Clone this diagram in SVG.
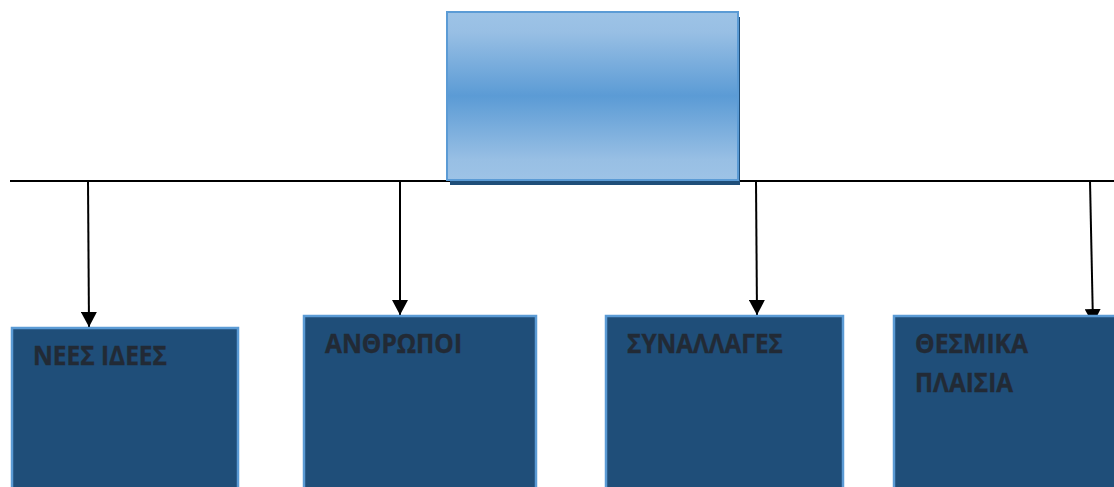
<svg xmlns="http://www.w3.org/2000/svg" width="1114" height="487" viewBox="0 0 1114 487">
  <defs>
    <linearGradient id="topFill" x1="0" y1="0" x2="0" y2="1">
      <stop offset="0" stop-color="#9dc3e6"/>
      <stop offset="0.12" stop-color="#98bfe4"/>
      <stop offset="0.5" stop-color="#5b9bd5"/>
      <stop offset="0.88" stop-color="#98bfe4"/>
      <stop offset="1" stop-color="#9dc3e6"/>
    </linearGradient>
    <marker id="arrowBig" markerWidth="15" markerHeight="16" refX="15" refY="8" orient="auto" markerUnits="userSpaceOnUse" viewBox="0 0 15 16">
      <path d="M0,0 L15,8 L0,16 z" fill="#000"/>
    </marker>
  </defs>
  <style>
    .box { fill: #1f4e79; stroke: #5b9bd5; stroke-width: 2.5; }
    .label { font-family: "Open Sans", "Liberation Sans", sans-serif; font-weight: bold; font-size: 27px; fill: #222a35; stroke: #222a35; stroke-width: 0.4; }
    .wire { stroke: #000; stroke-width: 2; fill: none; }
  </style>

  <rect width="1114" height="487" fill="#fff"/>

  <!-- connectors: bus line and drops to each box -->
  <g id="connectors">
    <line class="wire" x1="10" y1="181" x2="1114" y2="181"/>
    <line class="wire" x1="88" y1="181" x2="89" y2="327" marker-end="url(#arrowBig)"/>
    <line class="wire" x1="400" y1="181" x2="400" y2="315" marker-end="url(#arrowBig)"/>
    <line class="wire" x1="756" y1="181" x2="757" y2="315" marker-end="url(#arrowBig)"/>
    <line class="wire" x1="1090" y1="181" x2="1093" y2="324" marker-end="url(#arrowBig)"/>
  </g>

  <!-- top heading box with drop shadow -->
  <g id="top">
    <rect x="450" y="17" width="290" height="168" fill="#1f4e79"/>
    <rect x="447" y="12" width="291" height="168" fill="url(#topFill)" stroke="#5b9bd5" stroke-width="2"/>
  </g>

  <g id="nees-idees">
    <rect class="box" x="12" y="328" width="226" height="170"/>
    <text class="label" x="33" y="365" textLength="134" lengthAdjust="spacingAndGlyphs">ΝΕΕΣ ΙΔΕΕΣ</text>
  </g>

  <g id="anthropoi">
    <rect class="box" x="304" y="316" width="232" height="182"/>
    <text class="label" x="325" y="353" textLength="137" lengthAdjust="spacingAndGlyphs">ΑΝΘΡΩΠΟΙ</text>
  </g>

  <g id="synallages">
    <rect class="box" x="606" y="316" width="237" height="182"/>
    <text class="label" x="627" y="353" textLength="156" lengthAdjust="spacingAndGlyphs">ΣΥΝΑΛΛΑΓΕΣ</text>
  </g>

  <g id="thesmika-plaisia">
    <rect class="box" x="894" y="316" width="230" height="182"/>
    <text class="label" x="915" y="353" textLength="113" lengthAdjust="spacingAndGlyphs">ΘΕΣΜΙΚΑ</text>
    <text class="label" x="915" y="392" textLength="98" lengthAdjust="spacingAndGlyphs">ΠΛΑΙΣΙΑ</text>
  </g>
</svg>
